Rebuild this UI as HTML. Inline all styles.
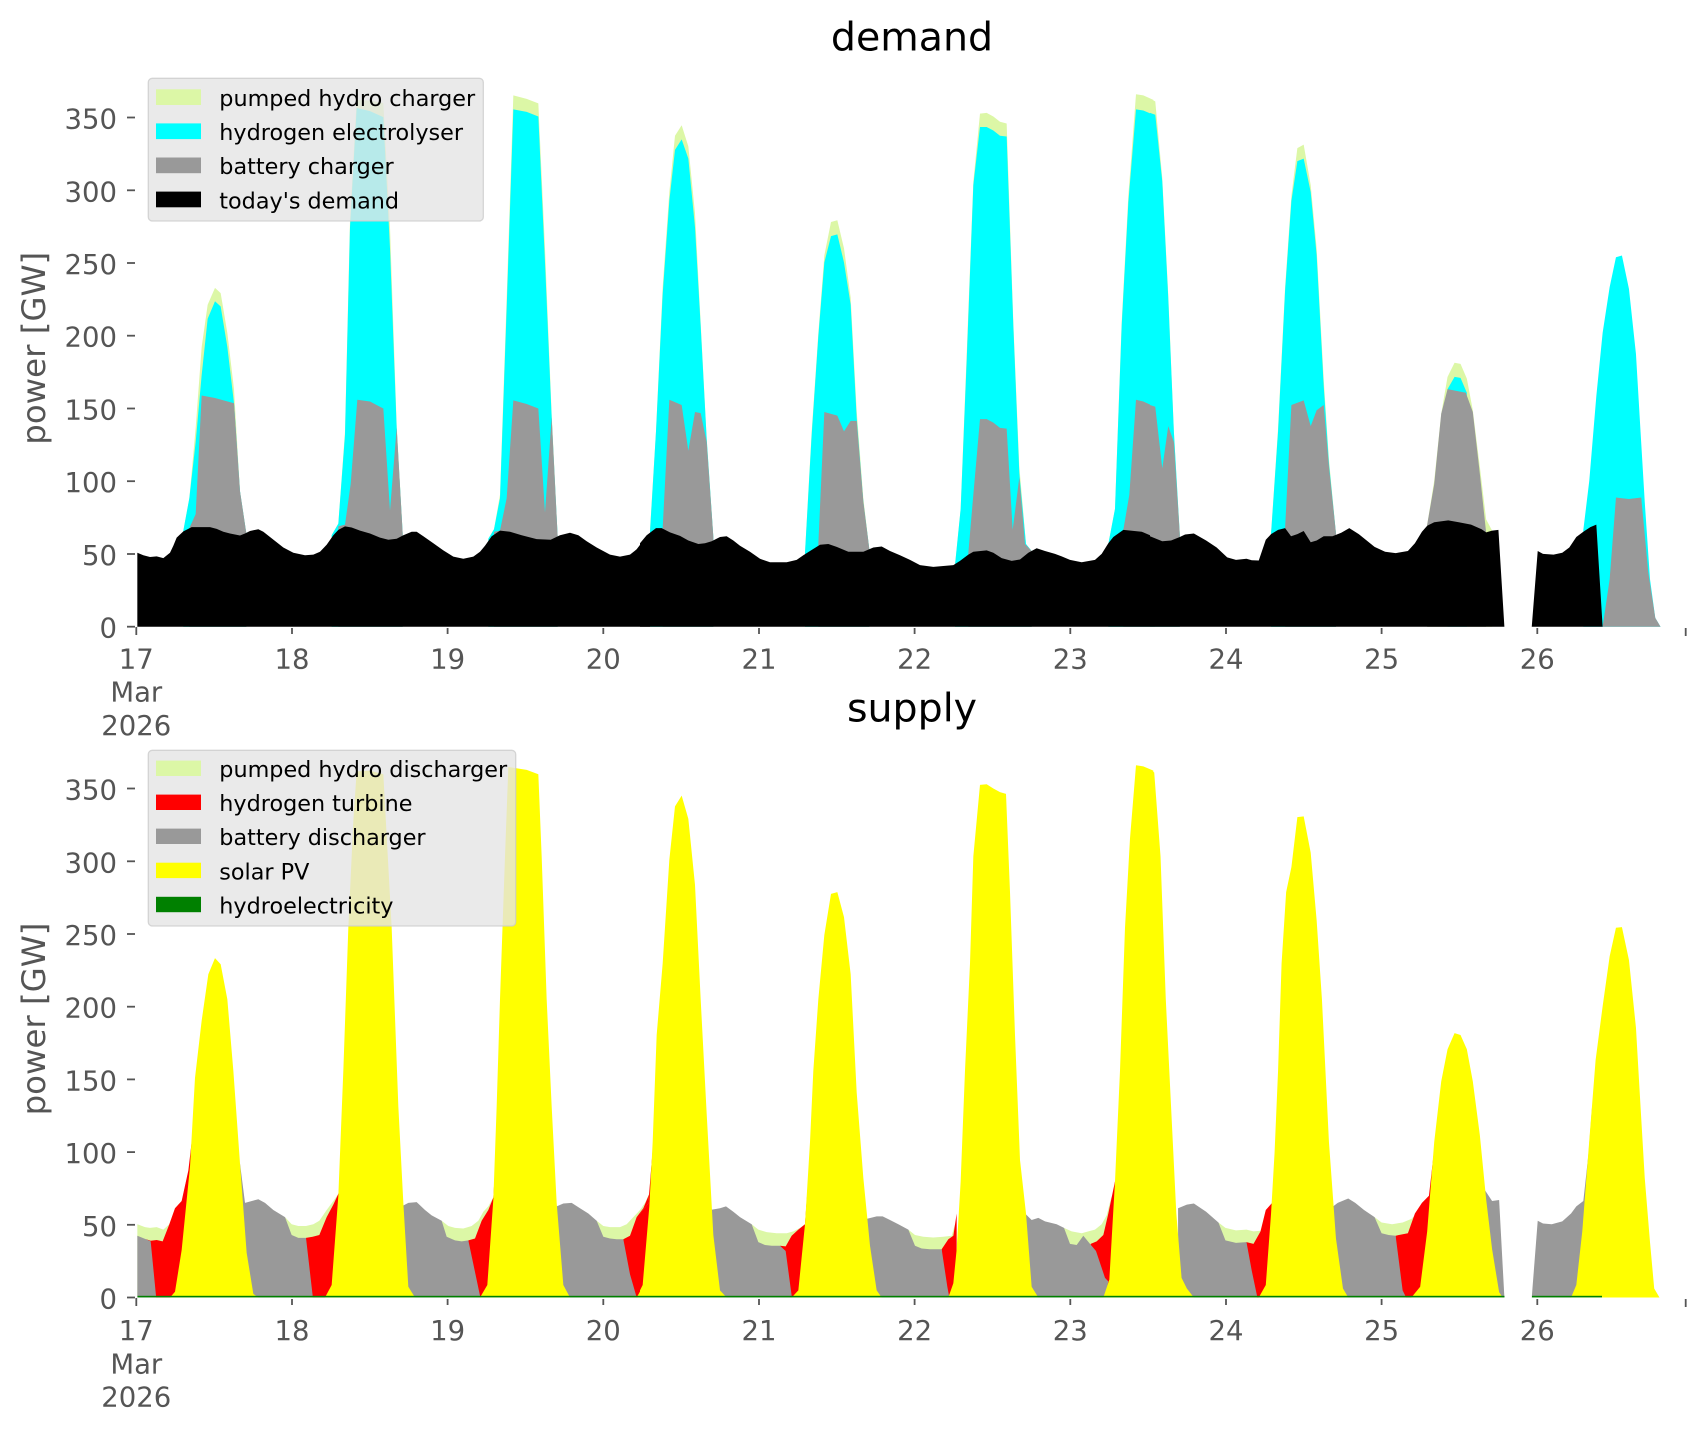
<!DOCTYPE html>
<html><head><meta charset="utf-8"><style>
html,body{margin:0;padding:0;background:#fff;}
svg{display:block;}
.lg{fill:#dcf7a6}.cy{fill:#00ffff}.gr{fill:#999999}.bk{fill:#000}.rd{fill:#ff0000}.ye{fill:#ffff00}
text{font-family:"DejaVu Sans","Liberation Sans",sans-serif;}
.tk{fill:#555555;font-size:27.5px;}
.tm{stroke:#555555;stroke-width:1.8;}
.lgt{fill:#000;font-size:22.3px;}
.ttl{fill:#000;font-size:39.5px;}
.yl{fill:#555555;font-size:32.4px;}
</style></head><body>
<svg width="1706" height="1431" viewBox="0 0 1706 1431" xmlns="http://www.w3.org/2000/svg">
<rect x="0" y="0" width="1706" height="1431" fill="#fff"/>

<!-- ================= DEMAND ================= -->
<g transform="translate(130,79.5) scale(0.333333,0.3519)">
<polygon class="lg" points="160,1282 178,1190 197,990 215,760 233,640 255,592 272,607 292,720 312,880 330,1170 349,1290 349,1555 160,1555"/>
<polygon class="cy" points="160,1282 178,1190 197,1030 215,840 233,680 255,630 272,645 292,760 312,920 330,1170 349,1290 349,1555 160,1555"/>
<polygon class="gr" points="178,1275 197,1235 215,898 255,905 312,920 330,1170 349,1290 349,1555 178,1555"/>

<polygon class="lg" points="605,1295 625,1262 645,1000 660,400 680,58 720,60 760,67 780,420 800,980 818,1290 818,1555 605,1555"/>
<polygon class="cy" points="605,1295 625,1262 645,1010 660,420 680,81 720,90 760,107 780,480 800,990 818,1290 818,1555 605,1555"/>
<polygon class="gr" points="625,1270 645,1265 662,1150 682,910 720,915 760,935 780,1225 800,990 818,1290 818,1555 625,1555"/>

<polygon class="lg" points="1075,1305 1092,1278 1110,1180 1130,620 1150,45 1190,55 1225,68 1245,480 1265,950 1283,1300 1283,1555 1075,1555"/>
<polygon class="cy" points="1075,1305 1092,1278 1110,1190 1130,650 1150,85 1190,92 1225,105 1245,520 1265,960 1283,1300 1283,1555 1075,1555"/>
<polygon class="gr" points="1092,1285 1110,1282 1130,1190 1150,912 1190,922 1225,935 1245,1230 1265,960 1283,1300 1283,1555 1092,1555"/>

<polygon class="bk" points="22,1345 40,1352 60,1357 80,1355 100,1360 120,1345 130,1325 140,1302 160,1284 185,1272 240,1272 260,1277 280,1285 300,1290 330,1296 345,1290 360,1283 385,1278 400,1285 420,1300 440,1315 460,1330 490,1345 525,1352 550,1350 570,1342 590,1322 610,1295 625,1280 645,1270 665,1273 690,1282 720,1290 750,1302 775,1308 800,1305 820,1295 845,1285 860,1285 880,1298 910,1318 940,1338 970,1356 1000,1362 1030,1356 1050,1342 1065,1325 1085,1298 1110,1282 1140,1285 1175,1295 1220,1306 1262,1308 1290,1295 1320,1288 1345,1295 1370,1312 1400,1330 1440,1350 1470,1356 1500,1350 1520,1335 1540,1310 1560,1290 1560,1555 22,1555"/>
</g>

<g transform="translate(640,79.5) scale(0.333333,0.3519)">
<polygon class="lg" points="30,1280 48,1000 68,590 88,320 105,160 125,130 145,190 165,380 182,690 200,1020 220,1300 220,1555 30,1555"/>
<polygon class="cy" points="30,1285 48,1000 68,610 88,345 105,200 125,170 145,225 165,420 182,700 200,1020 220,1300 220,1555 30,1555"/>
<polygon class="gr" points="68,1275 88,910 125,925 145,1055 165,945 182,948 200,1030 220,1300 220,1555 68,1555"/>

<polygon class="lg" points="495,1345 515,1000 535,720 553,500 573,405 592,400 612,480 632,620 650,940 670,1190 688,1335 688,1555 495,1555"/>
<polygon class="cy" points="495,1345 515,1010 535,730 553,520 573,445 592,440 612,520 632,640 650,960 670,1200 688,1335 688,1555 495,1555"/>
<polygon class="gr" points="535,1320 553,945 592,955 612,1000 632,970 650,970 670,1200 688,1335 688,1555 535,1555"/>

<polygon class="lg" points="945,1380 962,1220 980,780 1000,290 1020,97 1040,95 1060,105 1080,120 1100,125 1120,690 1138,1100 1158,1320 1175,1340 1175,1555 945,1555"/>
<polygon class="cy" points="945,1380 962,1220 980,800 1000,300 1020,135 1040,135 1060,145 1080,160 1100,162 1120,700 1138,1120 1158,1320 1175,1340 1175,1555 945,1555"/>
<polygon class="gr" points="985,1345 1000,1180 1020,965 1040,965 1060,975 1080,990 1100,992 1118,1280 1138,1130 1155,1320 1175,1340 1175,1555 985,1555"/>

<polygon class="lg" points="1405,1320 1425,1220 1445,690 1465,330 1488,42 1510,45 1540,58 1540,1555 1405,1555"/>
<polygon class="cy" points="1405,1320 1425,1220 1445,700 1465,350 1488,85 1510,88 1540,100 1540,1555 1405,1555"/>
<polygon class="gr" points="1450,1280 1468,1180 1488,910 1510,915 1540,928 1540,1555 1450,1555"/>

<polygon class="bk" points="0,1318 20,1295 48,1275 65,1275 90,1287 120,1297 145,1310 175,1320 195,1318 215,1312 240,1300 260,1298 280,1310 300,1325 330,1342 360,1362 390,1372 440,1372 470,1365 490,1352 510,1340 540,1322 565,1320 590,1328 625,1342 670,1342 700,1330 725,1327 750,1340 780,1352 810,1365 840,1380 880,1385 940,1380 960,1368 985,1350 1000,1342 1040,1338 1060,1345 1085,1360 1115,1368 1140,1364 1165,1345 1190,1332 1215,1340 1245,1348 1265,1355 1290,1365 1325,1372 1365,1365 1385,1348 1405,1318 1420,1300 1450,1280 1505,1285 1530,1295 1545,1300 1545,1555 0,1555"/>
</g>

<g transform="translate(1150,79.5) scale(0.350877,0.3519)">
<polygon class="lg" points="0,55 15,62 35,280 52,610 68,1000 85,1295 85,1555 0,1555"/>
<polygon class="cy" points="0,95 15,100 35,290 52,620 68,1000 85,1295 85,1555 0,1555"/>
<polygon class="gr" points="0,925 15,930 35,1105 52,985 68,1030 85,1295 85,1555 0,1555"/>

<polygon class="lg" points="345,1290 365,990 385,590 403,330 420,195 438,185 458,300 475,480 495,850 510,1080 530,1290 530,1555 345,1555"/>
<polygon class="cy" points="345,1290 365,1000 385,600 403,345 420,232 438,225 458,320 475,500 495,870 510,1090 530,1290 530,1555 345,1555"/>
<polygon class="gr" points="385,1275 403,925 438,912 458,985 475,940 495,925 510,1100 530,1290 530,1555 385,1555"/>

<polygon class="lg" points="790,1265 810,1140 830,950 848,845 868,805 885,808 903,850 920,940 940,1100 958,1250 975,1282 975,1555 790,1555"/>
<polygon class="cy" points="848,880 868,845 885,848 903,890 903,1555 848,1555"/>
<polygon class="gr" points="790,1265 810,1150 830,950 848,880 900,890 920,945 940,1120 958,1288 958,1555 790,1555"/>

<polygon class="cy" points="1235,1280 1252,1140 1272,900 1290,720 1310,590 1328,505 1345,500 1365,595 1385,780 1398,1000 1410,1200 1425,1420 1440,1530 1455,1555 1235,1555"/>
<polygon class="gr" points="1290,1555 1310,1420 1328,1188 1345,1190 1365,1192 1400,1188 1420,1400 1440,1530 1455,1555"/>

<polygon class="bk" points="0,1298 35,1312 60,1310 85,1300 100,1293 125,1290 160,1310 190,1330 220,1358 245,1365 275,1362 290,1366 310,1367 330,1308 345,1292 365,1280 385,1275 402,1298 420,1292 438,1283 458,1315 475,1310 495,1298 520,1298 545,1288 568,1275 595,1292 640,1328 670,1342 700,1346 735,1340 755,1318 775,1285 790,1268 810,1258 850,1253 880,1258 915,1265 945,1278 958,1287 975,1282 993,1280 1010,1555 0,1555"/>
<polygon class="bk" points="1088,1555 1105,1340 1120,1348 1150,1350 1175,1345 1195,1330 1215,1300 1235,1285 1255,1272 1272,1265 1290,1555"/>
</g>

<!-- ================= SUPPLY ================= -->
<g transform="translate(130,749.2) scale(0.333333,0.35719)">
<polygon class="lg" points="22,1330 45,1338 60,1340 80,1338 100,1345 118,1330 135,1285 155,1265 175,1180 175,1535 22,1535"/>
<polygon class="rd" points="48,1372 62,1376 80,1374 98,1378 118,1330 135,1285 155,1265 175,1180 185,1100 185,1535 48,1535"/>
<polygon class="gr" points="22,1362 48,1372 62,1378 78,1530 78,1535 22,1535"/>

<polygon class="lg" points="465,1310 485,1330 505,1335 528,1335 550,1330 568,1320 590,1290 610,1265 625,1245 625,1535 465,1535"/>
<polygon class="rd" points="528,1368 548,1365 568,1360 590,1310 610,1275 625,1245 640,1150 640,1535 528,1535"/>
<polygon class="gr" points="330,1160 345,1270 385,1260 405,1270 430,1290 465,1310 485,1360 505,1368 528,1368 548,1530 548,1535 330,1535"/>

<polygon class="lg" points="935,1320 955,1335 975,1340 1000,1342 1025,1335 1045,1320 1060,1295 1075,1280 1090,1255 1090,1535 935,1535"/>
<polygon class="rd" points="1015,1375 1035,1370 1055,1320 1075,1290 1090,1255 1100,1100 1100,1535 1015,1535"/>
<polygon class="gr" points="800,1280 815,1280 835,1270 860,1268 885,1290 905,1305 935,1320 950,1365 975,1375 995,1378 1015,1375 1050,1530 1050,1535 800,1535"/>

<polygon class="lg" points="1400,1320 1420,1335 1440,1338 1470,1338 1490,1330 1510,1310 1530,1290 1545,1270 1560,1240 1560,1535 1400,1535"/>
<polygon class="rd" points="1480,1372 1500,1362 1520,1310 1540,1285 1560,1240 1560,1535 1480,1535"/>
<polygon class="gr" points="1280,1280 1300,1272 1325,1270 1350,1285 1375,1300 1400,1320 1420,1365 1440,1370 1460,1372 1480,1372 1500,1470 1520,1535 1280,1535"/>

<polygon class="ye" points="120,1535 135,1519 155,1402 180,1169 195,920 215,760 235,630 255,585 272,602 292,700 310,900 330,1160 350,1410 370,1525 385,1535"/>
<polygon class="ye" points="585,1535 605,1500 625,1250 640,900 655,500 670,200 680,62 720,60 760,70 785,500 805,1000 820,1270 835,1505 855,1535"/>
<polygon class="ye" points="1050,1535 1072,1500 1090,1260 1100,1000 1110,700 1125,300 1135,50 1190,58 1225,70 1235,300 1250,700 1265,1000 1280,1270 1300,1500 1320,1535"/>
<polygon class="ye" points="1520,1535 1535,1510 1548,1400 1560,1280 1560,1535"/>
</g>

<g transform="translate(640,749.2) scale(0.333333,0.35719)">
<polygon class="lg" points="0,1300 25,1272 40,1100 40,1535 0,1535"/>
<polygon class="rd" points="0,1300 25,1272 40,1100 40,1535 0,1535"/>

<polygon class="lg" points="335,1330 355,1345 380,1352 410,1355 440,1355 460,1350 480,1340 495,1330 505,1200 505,1535 335,1535"/>
<polygon class="rd" points="420,1390 437,1392 455,1362 475,1345 495,1330 505,1200 505,1535 420,1535"/>
<polygon class="gr" points="210,1290 240,1285 258,1280 280,1295 300,1310 335,1330 355,1380 375,1388 395,1390 420,1390 437,1405 455,1530 455,1535 210,1535"/>

<polygon class="lg" points="805,1345 825,1360 850,1365 880,1367 910,1365 935,1362 945,1330 945,1535 805,1535"/>
<polygon class="rd" points="905,1400 925,1372 940,1362 950,1300 950,1535 905,1535"/>
<polygon class="gr" points="680,1315 710,1308 728,1308 750,1318 775,1330 805,1345 825,1390 845,1398 870,1400 905,1400 922,1505 928,1535 680,1535"/>

<polygon class="lg" points="1272,1340 1295,1350 1325,1355 1345,1350 1365,1345 1385,1330 1400,1305 1415,1250 1415,1535 1272,1535"/>
<polygon class="rd" points="1352,1385 1370,1378 1390,1360 1405,1300 1425,1210 1425,1535 1352,1535"/>
<polygon class="gr" points="1155,1300 1175,1318 1195,1312 1215,1322 1250,1330 1272,1340 1290,1385 1310,1388 1330,1362 1350,1385 1368,1405 1395,1480 1405,1490 1395,1535 1155,1535"/>

<polygon class="ye" points="0,1515 8,1500 28,1280 38,1100 50,800 68,600 88,310 105,160 125,130 145,195 165,380 182,700 200,1020 220,1360 240,1515 260,1535 0,1535"/>
<polygon class="ye" points="455,1535 475,1515 495,1330 510,1100 520,900 535,700 553,520 573,405 592,400 612,470 632,630 650,960 670,1200 690,1390 710,1515 725,1535"/>
<polygon class="ye" points="925,1535 940,1495 950,1400 962,1210 975,900 990,600 1000,300 1020,100 1040,98 1060,110 1080,120 1098,125 1110,400 1125,800 1140,1150 1158,1300 1175,1505 1195,1535"/>
<polygon class="ye" points="1390,1535 1408,1485 1425,1210 1440,900 1455,500 1470,250 1488,45 1510,48 1540,60 1540,1535"/>
</g>

<g transform="translate(1150,749.2) scale(0.350877,0.35719)">
<polygon class="lg" points="195,1325 215,1340 245,1347 275,1345 295,1350 315,1348 330,1290 330,1535 195,1535"/>
<polygon class="rd" points="275,1380 295,1385 315,1350 330,1290 348,1270 348,1535 275,1535"/>
<polygon class="gr" points="80,1285 105,1275 125,1272 160,1295 195,1325 215,1375 245,1382 275,1380 290,1460 305,1530 305,1535 80,1535"/>

<polygon class="lg" points="640,1310 660,1325 690,1330 720,1325 745,1315 760,1300 775,1270 775,1535 640,1535"/>
<polygon class="rd" points="700,1362 735,1355 755,1300 775,1270 795,1250 810,1120 810,1535 700,1535"/>
<polygon class="gr" points="515,1285 535,1270 565,1258 585,1270 610,1290 640,1310 660,1355 680,1360 700,1362 720,1515 730,1535 515,1535"/>
<polygon class="gr" points="955,1235 975,1265 995,1262 1010,1535 955,1535"/>

<polygon class="gr" points="1088,1535 1105,1320 1120,1328 1145,1330 1175,1322 1200,1300 1215,1280 1235,1265 1250,1130 1260,1000 1260,1535"/>

<polygon class="ye" points="0,60 12,65 30,300 45,700 60,1000 75,1300 90,1480 105,1510 125,1535 0,1535"/>
<polygon class="ye" points="310,1535 330,1500 345,1300 355,1130 365,900 375,600 388,400 403,330 420,190 438,188 458,290 475,480 490,700 510,1100 530,1370 550,1510 565,1535"/>
<polygon class="ye" points="745,1535 770,1505 790,1350 810,1100 830,930 848,840 868,795 885,800 903,840 920,930 940,1080 958,1260 975,1400 995,1520 1005,1535"/>
<polygon class="ye" points="1200,1535 1215,1500 1232,1350 1250,1120 1270,870 1290,720 1310,580 1328,500 1345,498 1365,590 1385,780 1395,950 1410,1200 1425,1380 1437,1510 1452,1535"/>
</g>
<!-- hydroelectricity thin line -->
<rect x="137.5" y="1295.8" width="1367" height="1.6" fill="#008000"/>
<rect x="1532" y="1295.8" width="70" height="1.6" fill="#008000"/>

<!-- ================= AXES: DEMAND ================= -->
<g class="tm">
<line x1="127" y1="626.7" x2="135" y2="626.7"/>
<line x1="127" y1="554" x2="135" y2="554"/>
<line x1="127" y1="481.2" x2="135" y2="481.2"/>
<line x1="127" y1="408.5" x2="135" y2="408.5"/>
<line x1="127" y1="335.7" x2="135" y2="335.7"/>
<line x1="127" y1="263" x2="135" y2="263"/>
<line x1="127" y1="190.3" x2="135" y2="190.3"/>
<line x1="127" y1="117.5" x2="135" y2="117.5"/>
<line x1="136.3" y1="627" x2="136.3" y2="635"/>
<line x1="292" y1="628" x2="292" y2="634"/>
<line x1="447.6" y1="628" x2="447.6" y2="634"/>
<line x1="603.3" y1="628" x2="603.3" y2="634"/>
<line x1="759" y1="628" x2="759" y2="634"/>
<line x1="914.6" y1="628" x2="914.6" y2="634"/>
<line x1="1070.3" y1="628" x2="1070.3" y2="634"/>
<line x1="1226" y1="628" x2="1226" y2="634"/>
<line x1="1381.6" y1="628" x2="1381.6" y2="634"/>
<line x1="1537.3" y1="628" x2="1537.3" y2="634"/>
<line x1="1685.7" y1="628" x2="1685.7" y2="636"/>
</g>
<g class="tk" text-anchor="end">
<text x="117" y="637.7">0</text>
<text x="117" y="565">50</text>
<text x="117" y="492.2">100</text>
<text x="117" y="419.5">150</text>
<text x="117" y="346.7">200</text>
<text x="117" y="274">250</text>
<text x="117" y="201.3">300</text>
<text x="117" y="128.5">350</text>
</g>
<g class="tk" text-anchor="middle">
<text x="136.3" y="668.3">17</text>
<text x="136.3" y="701.7">Mar</text>
<text x="136.3" y="735">2026</text>
<text x="292" y="668.3">18</text>
<text x="447.6" y="668.3">19</text>
<text x="603.3" y="668.3">20</text>
<text x="759" y="668.3">21</text>
<text x="914.6" y="668.3">22</text>
<text x="1070.3" y="668.3">23</text>
<text x="1226" y="668.3">24</text>
<text x="1381.6" y="668.3">25</text>
<text x="1537.3" y="668.3">26</text>
</g>
<text class="ttl" x="912" y="50.7" text-anchor="middle">demand</text>
<text class="yl" transform="translate(45,348.3) rotate(-90)" text-anchor="middle">power [GW]</text>

<!-- legend demand -->
<rect x="148.3" y="78.3" width="335" height="142.7" rx="4" ry="4" fill="rgba(229,229,229,0.8)" stroke="rgba(204,204,204,0.8)" stroke-width="1.3"/>
<rect x="156" y="89.3" width="45" height="15.7" class="lg"/>
<rect x="156" y="123.4" width="45" height="15.7" class="cy"/>
<rect x="156" y="157.5" width="45" height="15.7" class="gr"/>
<rect x="156" y="191.6" width="45" height="15.7" class="bk"/>
<text class="lgt" x="219.3" y="106">pumped hydro charger</text>
<text class="lgt" x="219.3" y="140.1">hydrogen electrolyser</text>
<text class="lgt" x="219.3" y="174.2">battery charger</text>
<text class="lgt" x="219.3" y="208.3">today's demand</text>

<!-- ================= AXES: SUPPLY ================= -->
<g class="tm">
<line x1="127" y1="1297.5" x2="135" y2="1297.5"/>
<line x1="127" y1="1224.8" x2="135" y2="1224.8"/>
<line x1="127" y1="1152.1" x2="135" y2="1152.1"/>
<line x1="127" y1="1079.4" x2="135" y2="1079.4"/>
<line x1="127" y1="1006.7" x2="135" y2="1006.7"/>
<line x1="127" y1="934" x2="135" y2="934"/>
<line x1="127" y1="861.3" x2="135" y2="861.3"/>
<line x1="127" y1="788.5" x2="135" y2="788.5"/>
<line x1="136.3" y1="1298" x2="136.3" y2="1306"/>
<line x1="292" y1="1299" x2="292" y2="1305"/>
<line x1="447.6" y1="1299" x2="447.6" y2="1305"/>
<line x1="603.3" y1="1299" x2="603.3" y2="1305"/>
<line x1="759" y1="1299" x2="759" y2="1305"/>
<line x1="914.6" y1="1299" x2="914.6" y2="1305"/>
<line x1="1070.3" y1="1299" x2="1070.3" y2="1305"/>
<line x1="1226" y1="1299" x2="1226" y2="1305"/>
<line x1="1381.6" y1="1299" x2="1381.6" y2="1305"/>
<line x1="1537.3" y1="1299" x2="1537.3" y2="1305"/>
<line x1="1685.7" y1="1299" x2="1685.7" y2="1307"/>
</g>
<g class="tk" text-anchor="end">
<text x="117" y="1308.5">0</text>
<text x="117" y="1235.8">50</text>
<text x="117" y="1163.1">100</text>
<text x="117" y="1090.4">150</text>
<text x="117" y="1017.7">200</text>
<text x="117" y="945">250</text>
<text x="117" y="872.3">300</text>
<text x="117" y="799.5">350</text>
</g>
<g class="tk" text-anchor="middle">
<text x="136.3" y="1340">17</text>
<text x="136.3" y="1373.3">Mar</text>
<text x="136.3" y="1406.3">2026</text>
<text x="292" y="1340">18</text>
<text x="447.6" y="1340">19</text>
<text x="603.3" y="1340">20</text>
<text x="759" y="1340">21</text>
<text x="914.6" y="1340">22</text>
<text x="1070.3" y="1340">23</text>
<text x="1226" y="1340">24</text>
<text x="1381.6" y="1340">25</text>
<text x="1537.3" y="1340">26</text>
</g>
<text class="ttl" x="912" y="721.5" text-anchor="middle">supply</text>
<text class="yl" transform="translate(45,1019) rotate(-90)" text-anchor="middle">power [GW]</text>

<!-- legend supply -->
<rect x="148.3" y="750.3" width="367.4" height="175.7" rx="4" ry="4" fill="rgba(229,229,229,0.8)" stroke="rgba(204,204,204,0.8)" stroke-width="1.3"/>
<rect x="156" y="760.6" width="45" height="15.4" class="lg"/>
<rect x="156" y="794.6" width="45" height="15.4" class="rd"/>
<rect x="156" y="828.6" width="45" height="15.4" class="gr"/>
<rect x="156" y="862.7" width="45" height="15.4" class="ye"/>
<rect x="156" y="896.8" width="45" height="15.4" fill="#008000"/>
<text class="lgt" x="219.3" y="777.1">pumped hydro discharger</text>
<text class="lgt" x="219.3" y="811.1">hydrogen turbine</text>
<text class="lgt" x="219.3" y="845.2">battery discharger</text>
<text class="lgt" x="219.3" y="879.3">solar PV</text>
<text class="lgt" x="219.3" y="913.4">hydroelectricity</text>
</svg>
</body></html>
